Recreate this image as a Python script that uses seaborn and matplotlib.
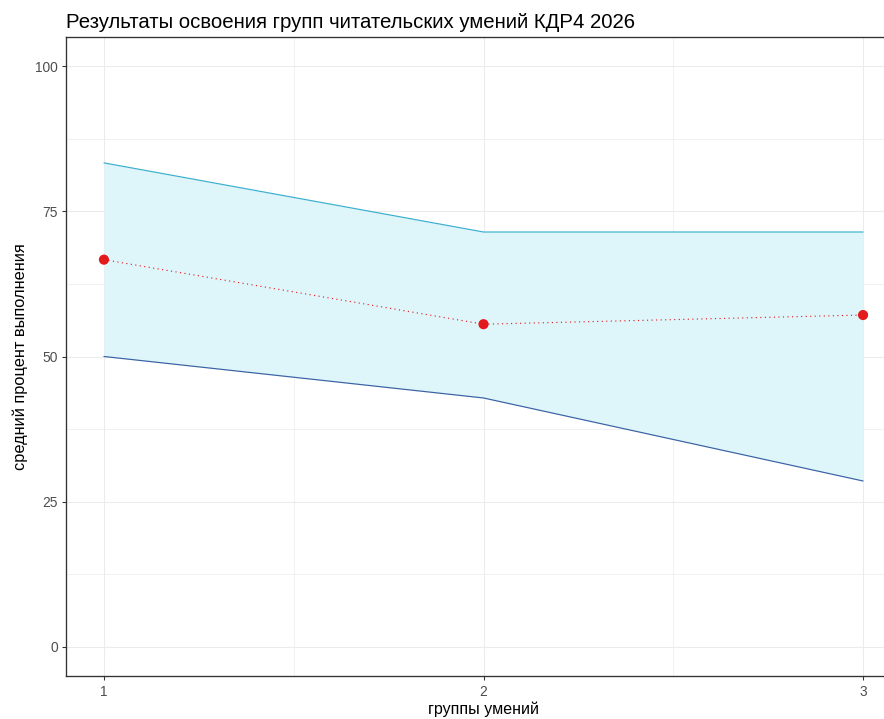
import numpy as np
import pandas as pd
import seaborn as sns
import matplotlib.pyplot as plt

# данные графика
groups = [1, 2, 3]
upper = [83.33, 71.43, 71.43]
lower = [50.0, 42.86, 28.57]
mean_pct = [66.67, 55.56, 57.14]

df = pd.DataFrame({'group': groups, 'upper': upper, 'lower': lower, 'mean': mean_pct})

sns.set_style("white")
plt.rcParams['font.family'] = ['Liberation Sans', 'DejaVu Sans']

W, H = 884, 719
fig = plt.figure(figsize=(W / 96, H / 96), dpi=96)
# панель уходит за правый край картинки, как в исходнике
ax = fig.add_axes([66 / W, (H - 676) / H, (901 - 66) / W, (676 - 37) / H])

ax.fill_between(df['group'], df['lower'], df['upper'], color='#DEF5FA', lw=0, zorder=1)
sns.lineplot(data=df, x='group', y='upper', color='#3BAFCF', lw=0.9, ax=ax, zorder=3)
sns.lineplot(data=df, x='group', y='lower', color='#3A62A4', lw=0.9, ax=ax, zorder=3)
sns.lineplot(data=df, x='group', y='mean', color='#E31A1C', lw=0.85, dashes=False,
             ax=ax, zorder=4).lines[-1].set_dashes((1, 3))
sns.scatterplot(data=df, x='group', y='mean', color='#E31A1C', s=58, edgecolor='none',
                ax=ax, zorder=5)

ax.set_xlim(0.9, 3.1)
ax.set_ylim(-5, 105)
ax.set_xticks(groups)
ax.set_xticklabels([str(g) for g in groups])
ax.set_yticks([0, 25, 50, 75, 100])
ax.set_xticks([1.5, 2.5], minor=True)
ax.set_yticks([12.5, 37.5, 62.5, 87.5], minor=True)

ax.grid(True, which='major', color='#EBEBEB', lw=0.8, zorder=0)
ax.grid(True, which='minor', color='#EBEBEB', lw=0.5, zorder=0)
ax.set_axisbelow(True)
ax.tick_params(which='major', length=3, width=0.8, color='#333333', labelsize=10.3,
               labelcolor='#4D4D4D', pad=3, left=True, bottom=True)
ax.tick_params(axis='x', which='major', pad=4)
ax.tick_params(which='minor', length=0)
for sp in ax.spines.values():
    sp.set_color('#333333')
    sp.set_linewidth(1.0)

ax.set_xlabel('группы умений', fontsize=12, color='black')
ax.set_ylabel('средний процент выполнения', fontsize=12.3, color='black')
ax.xaxis.set_label_coords(0.5, (676 - 709) / (676 - 37))
ax.yaxis.set_label_coords((20 - 66) / (901 - 66), 0.5)
ax.xaxis.label.set_va('center')
ax.yaxis.label.set_va('center')

fig.text(66 / W, 1 - 28 / H, 'Результаты освоения групп читательских умений КДР4 2026',
         fontsize=15.3, va='baseline', ha='left', color='black')

fig.savefig('out.png', dpi=96)
